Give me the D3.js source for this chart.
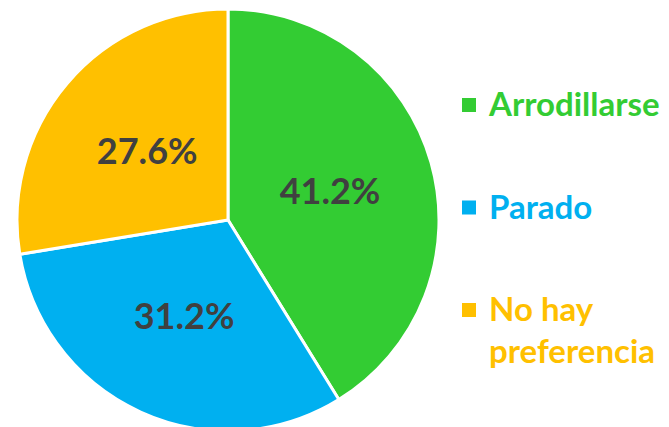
<!DOCTYPE html>
<html>
<head>
<meta charset="utf-8">
<script src="https://cdn.jsdelivr.net/npm/d3@7"></script>
<style>
  body { margin: 0; background: #fff; }
  svg { display: block; font-family: Lato, "Open Sans", sans-serif; font-weight: bold; }
</style>
</head>
<body>
<div id="container"></div>
<script>
/* DATA */
const categories = ["Arrodillarse", "Parado", "No hay preferencia"];
const values = [41.2, 31.2, 27.6];
const colors = ["#33CC33", "#00B0F0", "#FFC000"];
const legendLines = [["Arrodillarse"], ["Parado"], ["No hay", "preferencia"]];

/* CONSTANTS */
const width = 669, height = 427;
const cx = 228, cy = 220, radius = 211;

const svg = d3.select("#container")
  .append("svg")
  .attr("width", width)
  .attr("height", height);

const color = d3.scaleOrdinal().domain(categories).range(colors);

const pie = d3.pie().sort(null).value(d => d.value);
const data = categories.map((c, i) => ({ name: c, value: values[i] }));
const arcs = pie(data);

const arc = d3.arc().innerRadius(0).outerRadius(radius);
const labelArc = d3.arc().innerRadius(106).outerRadius(106);

const g = svg.append("g").attr("transform", `translate(${cx},${cy})`);

g.selectAll("path")
  .data(arcs)
  .enter()
  .append("path")
  .attr("d", arc)
  .attr("fill", d => color(d.data.name))
  .attr("stroke", "#fff")
  .attr("stroke-width", 3);

g.selectAll("text.pct")
  .data(arcs)
  .enter()
  .append("text")
  .attr("class", "pct")
  .attr("transform", d => `translate(${labelArc.centroid(d)})`)
  .attr("text-anchor", "middle")
  .attr("dy", "0.36em")
  .attr("fill", "#404040")
  .style("font-size", "36px")
  .text(d => d.data.value.toFixed(1) + "%");

// legend (y = text baseline)
const legendY = d3.scalePoint().domain(categories).range([116, 321]);

const legend = svg.selectAll("g.legend")
  .data(categories)
  .enter()
  .append("g")
  .attr("class", "legend")
  .attr("transform", d => `translate(462,${legendY(d)})`);

legend.append("rect")
  .attr("x", 0)
  .attr("y", -18)
  .attr("width", 14)
  .attr("height", 14)
  .attr("fill", d => color(d));

legend.append("text")
  .attr("fill", d => color(d))
  .style("font-size", "33px")
  .selectAll("tspan")
  .data((d, i) => legendLines[i])
  .enter()
  .append("tspan")
  .attr("x", 27)
  .attr("y", (d, j) => j * 42)
  .text(d => d);
</script>
</body>
</html>
